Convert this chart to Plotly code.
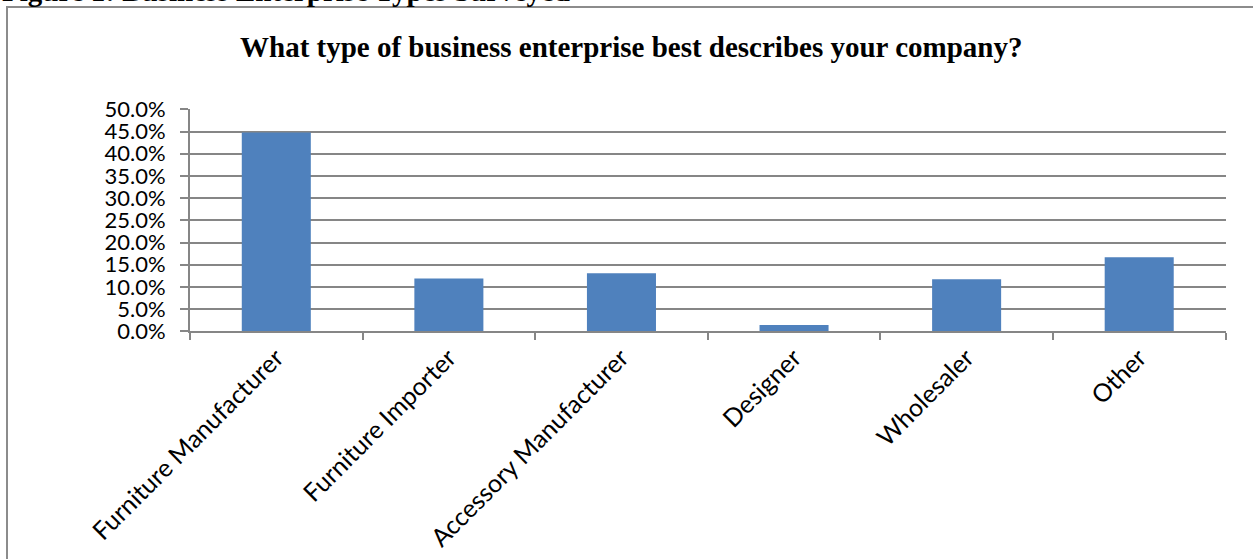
import plotly.graph_objects as go

categories = ["Furniture Manufacturer", "Furniture Importer", "Accessory Manufacturer",
              "Designer", "Wholesaler", "Other"]
values = [0.448, 0.119, 0.131, 0.014, 0.117, 0.167]
y_ticks = [0.0, 0.05, 0.10, 0.15, 0.20, 0.25, 0.30, 0.35, 0.40, 0.45, 0.50]
y_tick_labels = ["0.0%", "5.0%", "10.0%", "15.0%", "20.0%", "25.0%", "30.0%",
                 "35.0%", "40.0%", "45.0%", "50.0%"]
title_text = "What type of business enterprise best describes your company?"
caption_text = "Figure 1: Business Enterprise Types Surveyed"

W, H = 1253, 559
px = lambda x: x / W
py = lambda y: 1 - y / H

GRID = "#868686"
FONT = "Lato, Carlito, Calibri, sans-serif"

fig = go.Figure(go.Bar(
    x=categories, y=values,
    marker=dict(color="#4F81BD", line=dict(width=0)),
    hoverinfo="skip",
))

fig.update_layout(
    width=W, height=H,
    margin=dict(l=0, r=0, t=0, b=0),
    paper_bgcolor="white", plot_bgcolor="white",
    bargap=0.6,
    showlegend=False,
    xaxis=dict(
        domain=[px(190), px(1225.5)],
        type="category",
        tickson="boundaries",
        ticks="outside", ticklen=7, tickwidth=2, tickcolor=GRID,
        showline=True, linecolor=GRID, linewidth=2,
        showgrid=False,
        tickangle=-45,
        tickfont=dict(family=FONT, size=25, color="#000000"),
        automargin=False,
    ),
    yaxis=dict(
        domain=[py(331.3), py(109.3)],
        range=[0, 0.5],
        tickvals=y_ticks, ticktext=y_tick_labels,
        ticks="outside", ticklen=8, tickwidth=2, tickcolor=GRID,
        showline=True, linecolor=GRID, linewidth=2,
        showgrid=True, gridcolor=GRID, gridwidth=2,
        zeroline=False,
        tickfont=dict(family=FONT, size=22, color="#000000"),
        ticklabelstandoff=10,
        automargin=False,
    ),
    shapes=[
        dict(type="rect", xref="paper", yref="paper",
             x0=px(7), x1=px(1300), y0=py(620), y1=py(7),
             line=dict(color="#8c8c8c", width=2), fillcolor="rgba(0,0,0,0)", layer="below"),
    ],
    annotations=[
        dict(text="<b>" + title_text + "</b>", xref="paper", yref="paper",
             x=px(631), y=py(47), xanchor="center", yanchor="middle", showarrow=False,
             font=dict(family="Liberation Serif, Times New Roman, serif", size=29, color="#000000")),
        dict(text="<b>" + caption_text + "</b>", xref="paper", yref="paper",
             x=0, y=py(-9), xanchor="left", yanchor="middle", showarrow=False,
             font=dict(family="Liberation Serif, Times New Roman, serif", size=29, color="#000000")),
    ],
)

fig.write_html("out.html")
